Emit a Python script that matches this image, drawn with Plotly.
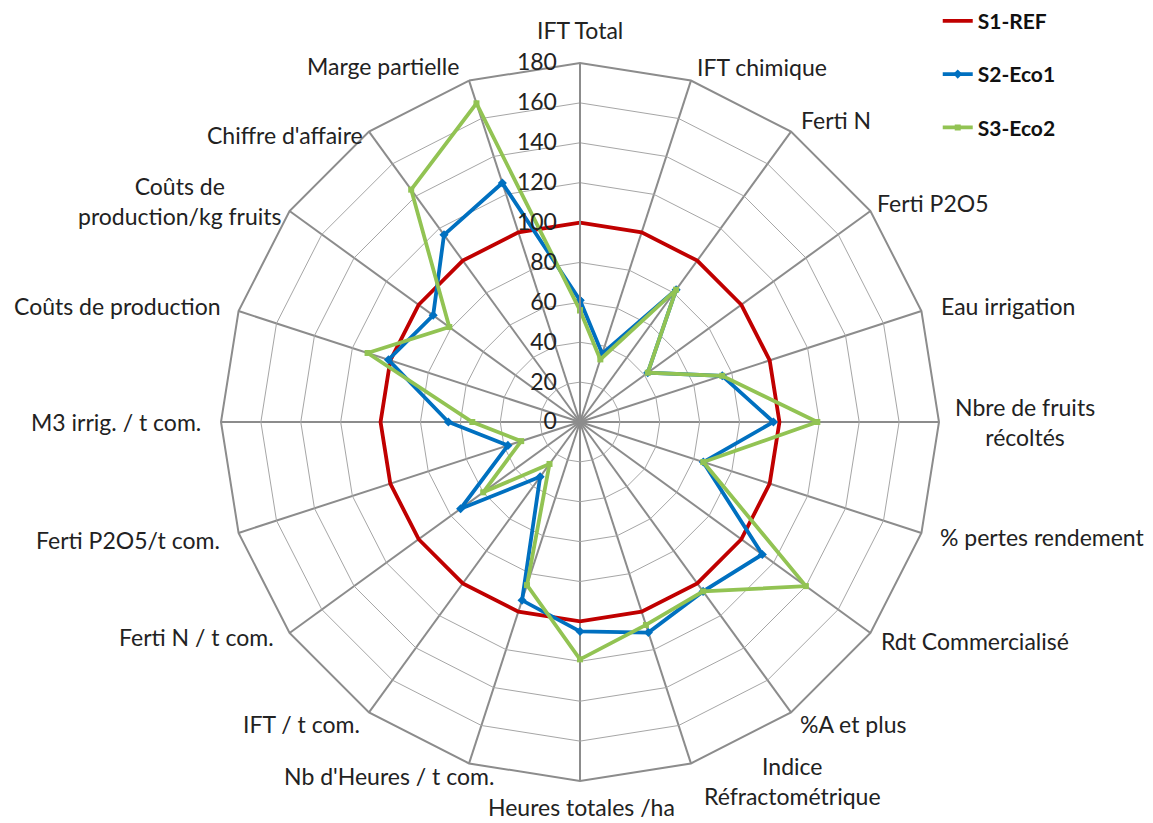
import plotly.graph_objects as go

categories = [
    "IFT Total", "IFT chimique", "Ferti N", "Ferti P2O5", "Eau irrigation",
    "Nbre de fruits<br>récoltés", "% pertes rendement", "Rdt Commercialisé",
    "%A et plus", "Indice<br>Réfractométrique", "Heures totales /ha",
    "Nb d'Heures / t com.", "IFT / t com.", "Ferti N / t com.",
    "Ferti P2O5/t com.", "M3 irrig. / t com.", "Coûts de production",
    "Coûts de<br>production/kg fruits", "Chiffre d'affaire", "Marge partielle",
]

s1_ref = [100] * 20
s2_eco1 = [61, 36, 82, 42, 75, 97, 65, 113, 105, 111,
           105, 94, 34, 74, 38, 66, 101, 91, 116, 126]
s3_eco2 = [56, 33, 82, 42, 75, 119, 65, 140, 105, 107,
           119, 86, 26, 60, 31, 54, 112, 81, 144, 168]

radial_ticks = list(range(0, 181, 20))

# where Excel put each category label (pixel centre in the original picture)
label_pos = [
    (580, 30), (762, 67), (836, 120), (932, 203), (1008, 306),
    (1025, 422), (1042, 537), (975, 641), (853, 724), (792, 781),
    (581, 807), (389, 776), (301, 724), (196, 637), (128, 540),
    (116, 422), (117, 306), (180, 201), (285, 135), (383, 66),
]

# the page has an 8px body margin, so the figure is 8px smaller each way
OFF = 8
W, H = 1153 - OFF, 823 - OFF

def closed(vals):
    return vals + vals[:1]

theta = closed(categories)

fig = go.Figure()
fig.add_trace(go.Scatterpolar(
    r=closed(s1_ref), theta=theta, name="<b>S1-REF</b>", mode="lines",
    line=dict(color="#C00000", width=3.8), legendgroup="a"))
fig.add_trace(go.Scatterpolar(
    r=closed(s2_eco1), theta=theta, name="<b>S2-Eco1</b>", mode="lines+markers",
    line=dict(color="#0070C0", width=3.8),
    marker=dict(symbol="diamond", size=7, color="#0070C0"), legendgroup="b"))
fig.add_trace(go.Scatterpolar(
    r=closed(s3_eco2), theta=theta, name="<b>S3-Eco2</b>", mode="lines+markers",
    line=dict(color="#92C353", width=3.8),
    marker=dict(symbol="square", size=6, color="#92C353"), legendgroup="c"))

# category labels, placed like in the original chart
for txt, (px, py) in zip(categories, label_pos):
    fig.add_annotation(
        text=txt, x=(px - OFF) / W, y=1 - (py - OFF) / H,
        xref="paper", yref="paper",
        xanchor="center", yanchor="middle", showarrow=False,
        font=dict(size=23, color="#222222"),
    )

# polar centre (580, 422), radius ~359 in the original picture
cx, cy, rad = 580 - OFF, 422 - OFF, 359

fig.update_layout(
    width=W, height=H,
    margin=dict(l=0, r=0, t=0, b=0, autoexpand=False),
    paper_bgcolor="white",
    font=dict(family="Lato, Open Sans, sans-serif", size=23, color="#222222"),
    polar=dict(
        domain=dict(x=[(cx - rad) / W, (cx + rad) / W],
                    y=[1 - (cy + rad) / H, 1 - (cy - rad) / H]),
        bgcolor="white",
        gridshape="linear",
        angularaxis=dict(
            direction="clockwise", rotation=90,
            categoryorder="array", categoryarray=categories,
            gridcolor="#8C8C8C", gridwidth=2,
            linecolor="#8C8C8C", linewidth=2,
            showticklabels=False, ticks="",
        ),
        radialaxis=dict(
            range=[0, 180], tickvals=radial_ticks, angle=90,
            side="counterclockwise",
            gridcolor="#A6A6A6", gridwidth=1.2,
            showline=True, linecolor="#8C8C8C", linewidth=2,
            ticks="outside", ticklen=14, tickcolor="rgba(0,0,0,0)",
            tickfont=dict(size=23, color="#222222"),
            tickangle=90,
        ),
    ),
    legend=dict(
        x=0.812, y=1.009, xanchor="left", yanchor="top",
        font=dict(size=21, color="#111111", family="Lato, Open Sans, sans-serif"),
        tracegroupgap=23, itemwidth=30, bgcolor="rgba(0,0,0,0)",
    ),
    showlegend=True,
)

fig.write_html("out.html")
